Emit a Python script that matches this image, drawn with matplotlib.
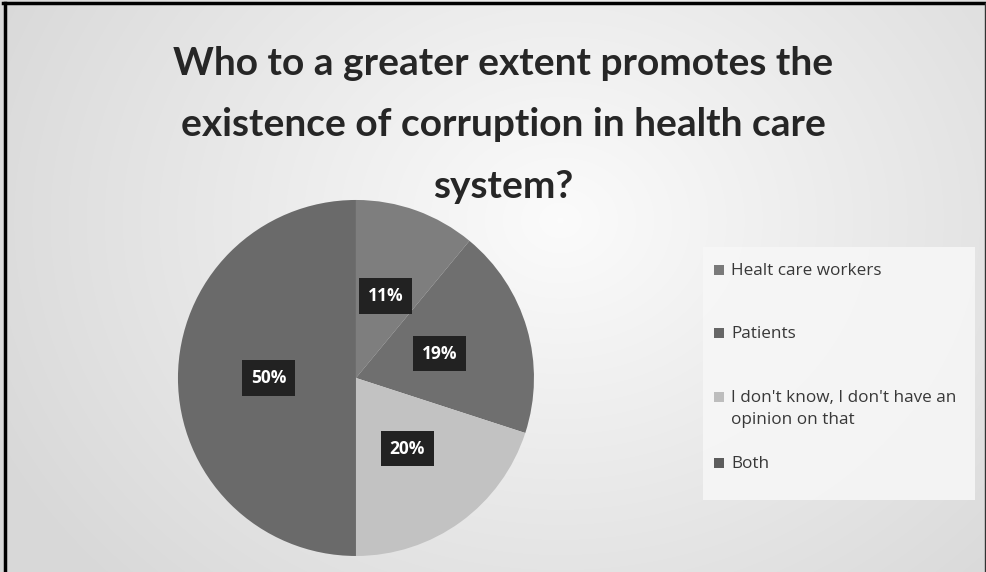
import matplotlib.pyplot as plt
import numpy as np
from matplotlib.patches import Rectangle

title = "Who to a greater extent promotes the\nexistence of corruption in health care\nsystem?"
labels = ["Healt care workers", "Patients",
          "I don't know, I don't have an\nopinion on that", "Both"]
shares = [11, 19, 20, 50]
colors = ["#7e7e7e", "#6f6f6f", "#c2c2c2", "#6a6a6a"]
legend_colors = ["#7a7a7a", "#666666", "#bdbdbd", "#5c5c5c"]

fig = plt.figure(figsize=(9.87, 5.72), dpi=100)

# soft radial grey background
bg = fig.add_axes([0, 0, 1, 1])
yy, xx = np.mgrid[0:572, 0:987]
d = np.sqrt(((xx - 560) / 600.0) ** 2 + ((yy - 220) / 500.0) ** 2)
shade = np.clip(0.985 - 0.13 * d, 0.85, 1.0)
rgb = np.dstack([shade, shade, shade])
bg.imshow(rgb, aspect="auto", extent=[0, 1, 0, 1], interpolation="bilinear")
bg.set_xlim(0, 1)
bg.set_ylim(0, 1)
bg.axis("off")

# frame lines (top, left, right)
bg.plot([0.005, 0.005], [0, 0.995], color="black", lw=2.5)
bg.plot([0.003, 1], [0.994, 0.994], color="black", lw=2.5)
bg.plot([0.998, 0.998], [0, 0.995], color="#333333", lw=1)

fig.text(0.51, 1 - 125 / 572, title, ha="center", va="center", fontsize=28,
         fontweight="bold", family="Lato", color="#262626", linespacing=1.9)

ax = fig.add_axes([0.1803, 0.028, 0.3607, 0.6224])
wedges, texts, autotexts = ax.pie(
    shares, colors=colors, startangle=90, counterclock=False,
    autopct="%d%%", pctdistance=0.49, radius=1.0,
    wedgeprops=dict(linewidth=0),
    textprops=dict(color="white", fontsize=12.5, fontweight="bold", family="Open Sans"))
for t in autotexts:
    t.set_bbox(dict(boxstyle="square,pad=0.5", facecolor="#222222", edgecolor="none"))
ax.set_xlim(-1, 1)
ax.set_ylim(-1, 1)
ax.set_aspect("equal")

# legend
bg.add_patch(Rectangle((703 / 987, 1 - 500 / 572), 272 / 987, 253 / 572,
                       facecolor="#f7f7f7", edgecolor="none", alpha=0.85))
leg_y = [270, 333, 397, 463]
for lab, c, y in zip(labels, legend_colors, leg_y):
    yf = 1 - y / 572
    bg.add_patch(Rectangle((714 / 987, yf - 4.5 / 572), 10 / 987, 10 / 572,
                           facecolor=c, edgecolor="none"))
    bg.text(731 / 987, yf + 7 / 572, lab, ha="left", va="top", fontsize=12.3,
            family="Open Sans", color="#383838", linespacing=1.5)

fig.savefig("out.png", dpi=100)
